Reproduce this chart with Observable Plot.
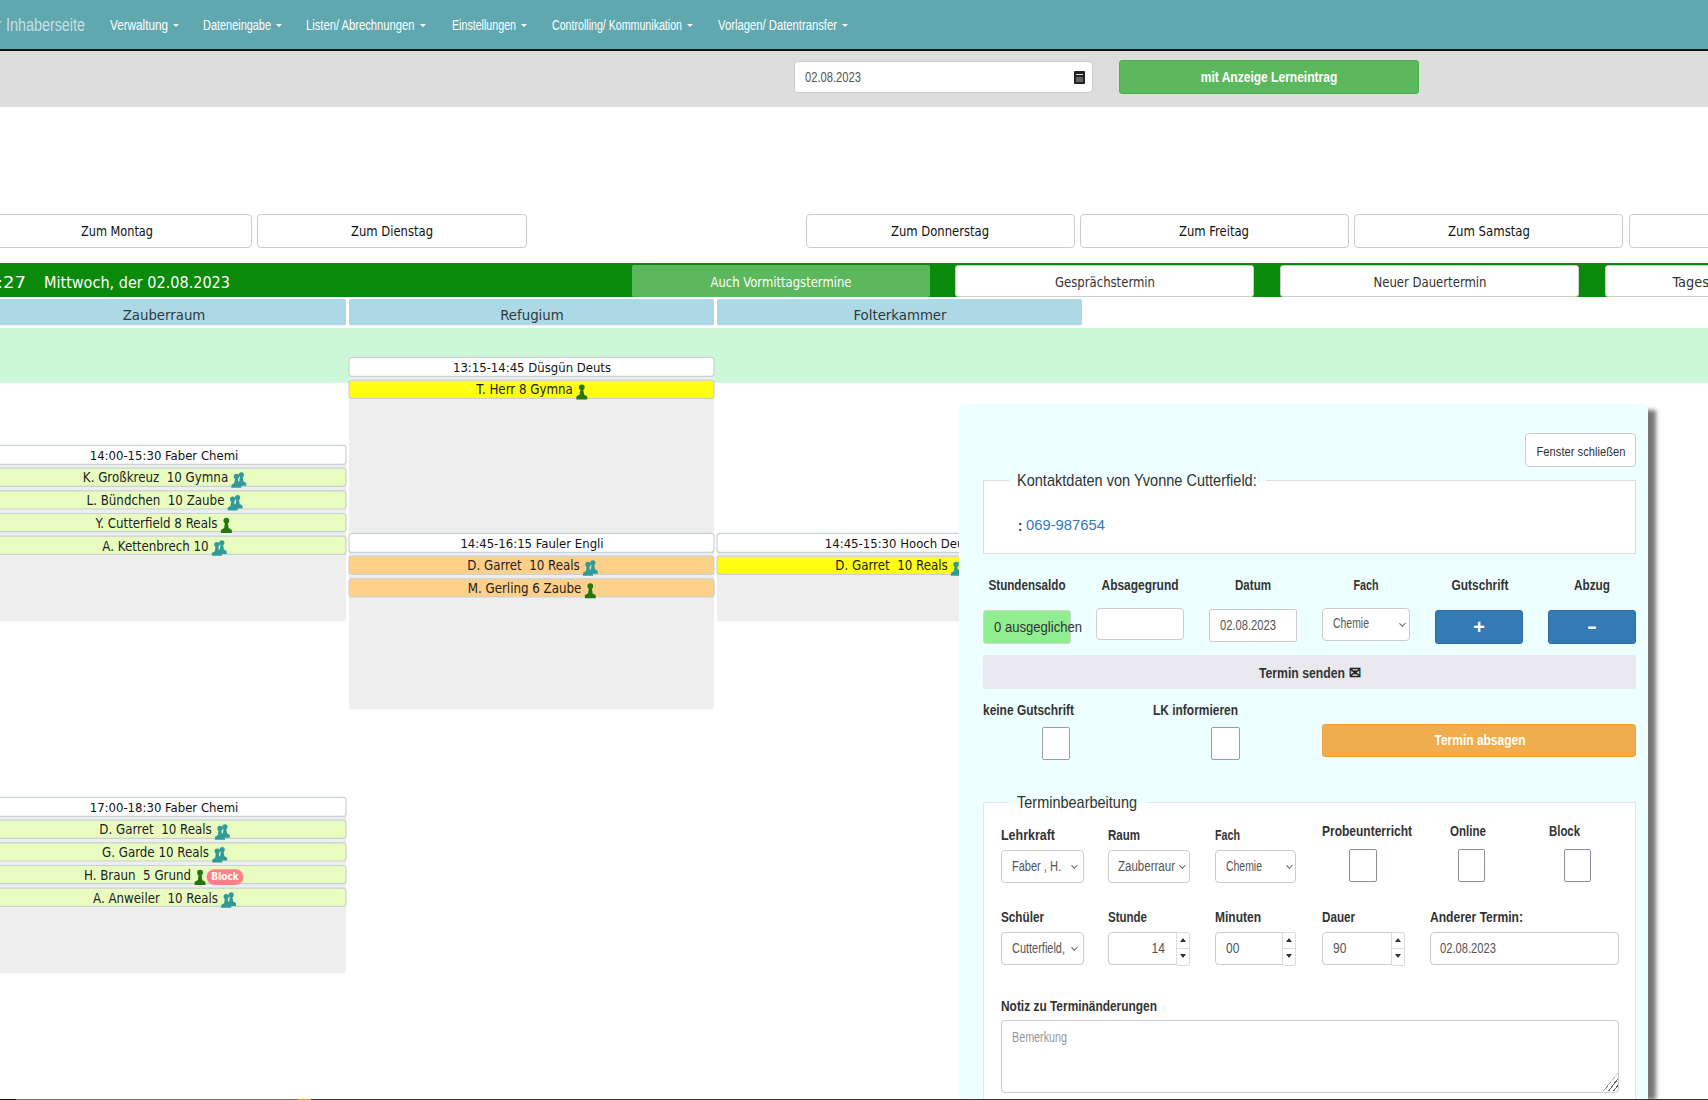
<!DOCTYPE html>
<html lang="de">
<head>
<meta charset="utf-8">
<title>Stundenplan</title>
<script src="https://cdn.jsdelivr.net/npm/d3@7"></script>
<script src="https://cdn.jsdelivr.net/npm/@observablehq/plot@0.6"></script>
<style>
html,body{margin:0;padding:0;background:#fff;overflow:hidden}
#root{position:relative;width:1708px;height:1100px;overflow:hidden}
#root svg{position:absolute;left:0;top:0}
.b,.t{position:absolute;box-sizing:border-box}
.t{white-space:nowrap;line-height:1}
</style>
</head>
<body>
<div id="root"></div>
<script>
// ---- Data ----
const rooms = ["Zauberraum", "Refugium", "Folterkammer"];
const lessonIds = ["a", "b", "c", "d", "e"];
const lessonRooms = ["Refugium", "Zauberraum", "Refugium", "Folterkammer", "Zauberraum"];
const lessonStarts = [795, 840, 885, 885, 1020];  // minutes after midnight
const lessonEnds = [885, 930, 975, 930, 1110];
const lessonLabels = ["13:15-14:45 Düsgün Deuts", "14:00-15:30 Faber Chemi", "14:45-16:15 Fauler Engli", "14:45-15:30 Hooch Deuts", "17:00-18:30 Faber Chemi"];
const studentLesson = ["a", "b", "b", "b", "b", "c", "c", "d", "e", "e", "e", "e"];
const studentNames = ["T. Herr 8 Gymna", "K. Großkreuz\u00a0 10 Gymna", "L. Bündchen\u00a0 10 Zaube", "Y. Cutterfield 8 Reals", "A. Kettenbrech 10", "D. Garret\u00a0 10 Reals", "M. Gerling 6 Zaube", "D. Garret\u00a0 10 Reals", "D. Garret\u00a0 10 Reals", "G. Garde 10 Reals", "H. Braun\u00a0 5 Grund", "A. Anweiler\u00a0 10 Reals"];
const studentStatus = ["offen", "regulär", "regulär", "regulär", "regulär", "vorgemerkt", "vorgemerkt", "offen", "regulär", "regulär", "regulär", "regulär"];
const studentKind = ["einzel", "gruppe", "gruppe", "einzel", "gruppe", "gruppe", "einzel", "gruppe", "gruppe", "gruppe", "einzel", "gruppe"];
const studentBlock = [false, false, false, false, false, false, false, false, false, false, true, false];
const statusNames = ["regulär", "vorgemerkt", "offen"];
const statusColors = ["#e9fdc0", "#ffd08a", "#ffff14"];
const headerRow = [765.9, 779.3];   // room title row, on the time axis
const midBand = [780.7, 808.7];     // mint band on the time axis
const titleSpan = 9.7, rowPitch = 11.6, rowSpan = 9.3; // minutes of axis per row

const navLabels = ["Verwaltung", "Dateneingabe", "Listen/ Abrechnungen", "Einstellungen", "Controlling/ Kommunikation", "Vorlagen/ Datentransfer"];
const dayLabels = ["Zum Montag", "Zum Dienstag", "Zum Donnerstag", "Zum Freitag", "Zum Samstag", ""];
const actionLabels = ["Gesprächstermin", "Neuer Dauertermin", "Tagestermin"];

// ---- Schedule tables ----
const timeShift = 0.75; // the headers above keep their place, the lessons sit lower
const lessons = lessonIds.map((id, i) => ({id, room: lessonRooms[i], start: lessonStarts[i], end: lessonEnds[i], label: lessonLabels[i]}));
lessons.forEach(l => {
  l.ty1 = l.start; l.ty2 = l.start + titleSpan; l.mid = l.start + titleSpan / 2;
});
const students = studentNames.map((name, i) => {
  const lesson = lessons.find(l => l.id === studentLesson[i]);
  const order = studentLesson.slice(0, i).filter(x => x === lesson.id).length;
  const y1 = lesson.start + (order + 1) * rowPitch;
  return {name, room: lesson.room, status: studentStatus[i], kind: studentKind[i], block: studentBlock[i], y1, y2: y1 + rowSpan, mid: y1 + rowSpan / 2};
});

// ---- Text measuring ----
const cv = document.createElement("canvas").getContext("2d");
const measure = (txt, font) => { cv.font = font; return cv.measureText(txt).width; };
const SCHED = '"DejaVu Sans Condensed","DejaVu Sans",sans-serif';
const SANS = '"Liberation Sans",Arial,sans-serif';

const rowFont = 13, nameFont = 13.2;
const iconW = {einzel: 15, gruppe: 17};
students.forEach(s => {
  const tw = measure(s.name, `${nameFont}px ${SCHED}`);
  const total = tw + iconW[s.kind] + (s.block ? 38 : 0);
  s.textDx = -total / 2 + tw / 2;
  s.iconDx = -total / 2 + tw + iconW[s.kind] / 2 + 1.5;
  s.badgeDx = -total / 2 + tw + iconW[s.kind] + 19;
});

// ---- Person glyphs as Plot symbols ----
function person(ctx, cx, cy, R) {
  ctx.moveTo(cx + 0.36 * R, cy - 0.55 * R);
  ctx.arc(cx, cy - 0.55 * R, 0.36 * R, 0, 2 * Math.PI);
  ctx.moveTo(cx - 0.2 * R, cy - 0.2 * R);
  ctx.lineTo(cx + 0.2 * R, cy - 0.2 * R);
  ctx.lineTo(cx + 0.28 * R, cy + 0.35 * R);
  ctx.lineTo(cx + 0.68 * R, cy + 0.6 * R);
  ctx.lineTo(cx + 0.68 * R, cy + 0.98 * R);
  ctx.lineTo(cx - 0.68 * R, cy + 0.98 * R);
  ctx.lineTo(cx - 0.68 * R, cy + 0.6 * R);
  ctx.lineTo(cx - 0.28 * R, cy + 0.35 * R);
  ctx.closePath();
}
const single = {draw(ctx, size) { const R = Math.sqrt(size / Math.PI); person(ctx, 0, 0, R); }};
const pair = {draw(ctx, size) { const R = Math.sqrt(size / Math.PI); person(ctx, 0.4 * R, -0.12 * R, 0.9 * R); person(ctx, -0.22 * R, 0.1 * R, 0.92 * R); }};
const pill = {draw(ctx) {
  const w = 18.5, h = 7.8;
  ctx.moveTo(-w + h, -h);
  ctx.lineTo(w - h, -h);
  ctx.arc(w - h, 0, h, -Math.PI / 2, Math.PI / 2);
  ctx.lineTo(-w + h, h);
  ctx.arc(-w + h, 0, h, Math.PI / 2, -Math.PI / 2);
  ctx.closePath();
}};

// ---- The schedule, through Plot's scales ----
const chart = Plot.plot({
  width: 1708, height: 1100,
  marginTop: 0, marginRight: 0, marginBottom: 0, marginLeft: 0,
  style: {background: "transparent", overflow: "hidden"},
  x: {type: "band", domain: rooms, range: [-20, 1083], paddingInner: 0.0068, paddingOuter: 0, axis: null},
  y: {type: "linear", domain: [612.96 - timeShift, 1175.46 - timeShift], range: [0, 1100], axis: null},
  color: {domain: statusNames, range: statusColors},
  marks: [
    Plot.rect([{}], {y1: () => midBand[0] - timeShift, y2: () => midBand[1] - timeShift, fill: "#ccf7d8"}),
    Plot.barY(rooms, {x: d => d, y1: () => headerRow[0] - timeShift, y2: () => headerRow[1] - timeShift, fill: "#add8e6", rx: 2}),
    Plot.text(rooms, {x: d => d, y: () => (headerRow[0] + headerRow[1]) / 2 - timeShift, dy: 3, text: d => d, fontFamily: SCHED, fontSize: 14.8, fill: "#2e3a3d"}),
    Plot.barY(lessons, {x: "room", y1: "start", y2: "end", fill: "#eeeeee", rx: 3}),
    Plot.barY(lessons, {x: "room", y1: "ty1", y2: "ty2", fill: "#ffffff", stroke: "#c8d2d4", strokeWidth: 1.2, rx: 3}),
    Plot.text(lessons, {x: "room", y: "mid", dy: 0.5, text: "label", fontFamily: SCHED, fontSize: rowFont, fill: "#111"}),
    Plot.barY(students, {x: "room", y1: "y1", y2: "y2", fill: "status", stroke: "#c8d2d4", strokeWidth: 1.2, rx: 3}),
    ...students.flatMap(s => [
      Plot.text([s], {x: "room", y: "mid", text: "name", dx: s.textDx, dy: 0.5, fontFamily: SCHED, fontSize: nameFont, fill: "#222"}),
      Plot.dot([s], {x: "room", y: "mid", dx: s.iconDx, dy: 2, r: 8, symbol: s.kind === "einzel" ? single : pair, fill: s.kind === "einzel" ? "#24760f" : "#2f9a9a", stroke: "none"}),
      ...(s.block ? [
        Plot.dot([s], {x: "room", y: "mid", dx: s.badgeDx, dy: 2, r: 10, symbol: pill, fill: "#ff8088", stroke: "none"}),
        Plot.text([s], {x: "room", y: "mid", text: () => "Block", dx: s.badgeDx, dy: 2, fontFamily: SCHED, fontSize: 10, fontWeight: "bold", fill: "#fff"})
      ] : [])
    ])
  ]
});
const root = document.getElementById("root");
root.appendChild(chart);

// ---- Page chrome around the chart ----
function box(x1, y1, x2, y2, bg, o = {}) {
  const e = document.createElement("div");
  e.className = "b";
  e.style.cssText = `left:${x1}px;top:${y1}px;width:${x2 - x1}px;height:${y2 - y1}px;background:${bg};` +
    `border:${o.border || "none"};border-radius:${o.r ?? 0}px;box-shadow:${o.shadow || "none"};${o.css || ""}`;
  root.appendChild(e);
  return e;
}
function txt(s, x, y, o = {}) {
  const size = o.size || 14, weight = o.weight || "normal", fam = o.fam || SANS;
  const e = document.createElement("span");
  e.className = "t";
  e.textContent = s;
  let sx = o.sx || 0.86;
  if (o.w) sx = o.w / measure(s, `${weight} ${size}px ${fam}`);
  const anchor = o.anchor || "left";
  const tx = anchor === "left" ? "0" : anchor === "right" ? "-100%" : "-50%";
  e.style.cssText = `left:${x}px;top:${y}px;font:${weight} ${size}px ${fam};color:${o.color || "#333"};` +
    `transform-origin:${anchor} center;transform:translate(${tx},-50%) scaleX(${sx});${o.css || ""}`;
  root.appendChild(e);
  return e;
}
function chevron(x, y) {
  box(x - 2.5, y - 3, x + 2.5, y + 2, "transparent", {css: "border-right:1px solid #555;border-bottom:1px solid #555;transform:rotate(45deg) scale(.9,1);"});
}
function tri(x, y, dir, c, w = 3.5, h = 4) {
  const e = box(x - w, y - h / 2, x + w, y + h / 2, "transparent", {css:
    `width:0;height:0;border-left:${w}px solid transparent;border-right:${w}px solid transparent;` +
    (dir === "down" ? `border-top:${h}px solid ${c};` : `border-bottom:${h}px solid ${c};`)});
  return e;
}

// nav
box(0, 0, 1708, 49, "#5fa8b0");
box(0, 49, 1708, 50.5, "#111");
box(0, 50.5, 1708, 107, "#dddddd");
txt("Inhaberseite", 85, 25, {size: 18, color: "#c9dfe2", anchor: "right", w: 79});
txt("r", -2, 25, {size: 18, color: "#c9dfe2", w: 3});
const navLefts = [110, 203, 306, 452, 552, 718], navWidths = [58, 68, 109, 64, 130, 119];
navLabels.forEach((n, i) => {
  txt(n, navLefts[i], 24.5, {size: 14, color: "#fff", w: navWidths[i]});
  tri(navLefts[i] + navWidths[i] + 7.5, 25.5, "down", "#fff", 3, 3.5);
});
// date + button
box(794, 60.5, 1093, 92.5, "#fff", {border: "1px solid #ccc", r: 4});
txt("02.08.2023", 805, 77, {size: 14, color: "#555", w: 56});
box(1074, 71, 1085, 84, "#222", {r: 1});
box(1076, 74, 1083, 75, "#ddd");
box(1076, 77, 1083, 82, "#666");
box(1119, 60, 1419, 94, "#5cb85c", {border: "1px solid #4cae4c", r: 3});
txt("mit Anzeige Lerneintrag", 1269, 77, {size: 14, weight: "bold", color: "#fff", anchor: "center", w: 137});

// day buttons
const dayLefts = [-10, 257, 805.5, 1080, 1354, 1628.5], dayRights = [252, 527, 1075, 1348.5, 1623, 1760];
const dayWidths = [72, 82, 98, 70, 82, 0];
dayLabels.forEach((d, i) => {
  box(dayLefts[i], 214, dayRights[i], 248, "#fff", {border: "1px solid #ccc", r: 4});
  if (d) txt(d, (i === 0 ? 117 : (dayLefts[i] + dayRights[i]) / 2), 231, {size: 14, fam: SCHED, color: "#111", anchor: "center", w: dayWidths[i]});
});

// green strip
box(0, 263, 1708, 297, "#0a8a0a");
txt("13:27", 26, 281.5, {size: 16.5, fam: SCHED, color: "#fff", anchor: "right", w: 52});
txt("Mittwoch, der 02.08.2023", 43.5, 281.5, {size: 16.5, fam: SCHED, color: "#fff", w: 186});
box(632, 265, 930, 297, "#5cb85c", {r: 2});
txt("Auch Vormittagstermine", 781, 281.5, {size: 14, fam: SCHED, color: "#fff", anchor: "center", w: 141});
const actLefts = [955, 1280, 1604.5], actRights = [1254, 1579, 1904], actCenters = [1105, 1429.5, 1712], actWidths = [100, 113, 79];
actionLabels.forEach((a, i) => {
  box(actLefts[i], 265, actRights[i], 297, "#fff", {border: "1px solid #ccc", r: 3});
  txt(a, actCenters[i], 281.5, {size: 14, fam: SCHED, color: "#333", anchor: "center", w: actWidths[i]});
});

// panel
box(966, 410, 1656, 1100, "#777", {css: "filter:blur(2px);"});
box(958.5, 404, 1648, 1100, "#eeffff", {r: 6, css: "border-bottom-left-radius:0;border-bottom-right-radius:0;"});
box(1525.4, 433.3, 1635.6, 466.7, "#fff", {border: "1px solid #ccc", r: 4});
txt("Fenster schließen", 1580.5, 450.5, {size: 13.5, color: "#333", anchor: "center", w: 89});

// contact fieldset
box(983, 480, 1636, 554, "#fff", {border: "1.5px solid #ddd"});
box(1009, 470, 1266, 481.5, "#eeffff");
txt("Kontaktdaten von Yvonne Cutterfield:", 1017, 480.5, {size: 17, color: "#333", w: 240});
txt(":", 1018, 525, {size: 15, color: "#333", weight: "bold"});
txt("069-987654", 1026, 524.7, {size: 15.5, color: "#337ab7", w: 79});

// row of six controls
const topLabels = ["Stundensaldo", "Absagegrund", "Datum", "Fach", "Gutschrift", "Abzug"];
const topCenters = [1027, 1140, 1253, 1366, 1479.6, 1592];
const topWidths = [77, 77, 36, 25, 57, 36];
topLabels.forEach((l, i) => txt(l, topCenters[i], 584.5, {size: 14, weight: "bold", anchor: "center", w: topWidths[i]}));
box(983, 609.5, 1071, 643.5, "#90ee90", {r: 3, border: "1px solid #c9dcc9"});
txt("0 ausgeglichen", 994, 627, {size: 14, color: "#333", w: 88});
box(1096, 607.5, 1184, 640, "#fff", {border: "1px solid #ccc", r: 4});
box(1209, 608.5, 1297, 641.5, "#fff", {border: "1px solid #ccc", r: 2});
txt("02.08.2023", 1220, 624.5, {size: 14, color: "#555", w: 56});
box(1322, 607.5, 1409.5, 640.5, "#fff", {border: "1px solid #ccc", r: 4});
txt("Chemie", 1333, 623, {size: 14, color: "#555", w: 36});
chevron(1402, 623.5);
box(1435, 609.5, 1523, 643.5, "#337ab7", {border: "1px solid #2e6da4", r: 3});
txt("+", 1479, 627, {size: 20, weight: "bold", color: "#fff", anchor: "center", sx: 1});
box(1548, 609.5, 1636, 643.5, "#337ab7", {border: "1px solid #2e6da4", r: 3});
txt("-", 1592, 626, {size: 20, weight: "bold", color: "#fff", anchor: "center", sx: 1.5});
box(983, 655, 1636, 689, "#e8e8ee", {r: 3});
txt("Termin senden", 1259, 672.5, {size: 14, weight: "bold", w: 86});
txt("\u2709", 1354.5, 671.5, {size: 18, fam: '"DejaVu Sans",sans-serif', color: "#222", anchor: "center", sx: 0.8, css: "-webkit-text-stroke:.6px #222;"});

txt("keine Gutschrift", 983, 709.5, {size: 14, weight: "bold", w: 91});
txt("LK informieren", 1153, 709.5, {size: 14, weight: "bold", w: 85});
const cbStyle = {border: "1.5px solid #9a9aa8", r: 2};
box(1041.6, 727, 1070, 760, "#fff", cbStyle);
box(1211, 727, 1239.6, 760, "#fff", cbStyle);
box(1322, 723.5, 1636, 756.5, "#f0ad4e", {border: "1px solid #eea236", r: 3});
txt("Termin absagen", 1479.6, 739.5, {size: 14, weight: "bold", color: "#fff", anchor: "center", w: 91});

// edit fieldset
box(983, 802, 1636, 1130, "#fff", {border: "1.5px solid #e3e6e6"});
box(1009, 795, 1146, 804, "#eeffff");
txt("Terminbearbeitung", 1017, 802.5, {size: 17, color: "#333", w: 120});

const bold = (s, x, y, w) => txt(s, x, y, {size: 14, weight: "bold", w});
bold("Lehrkraft", 1000.5, 835.2, 54);
bold("Raum", 1108, 835.2, 32);
bold("Fach", 1215, 835.2, 25);
bold("Probeunterricht", 1322, 830.5, 90);
bold("Online", 1450, 830.5, 36);
bold("Block", 1549, 830.5, 31);
const inp = {border: "1px solid #ccc", r: 4};
box(1000.5, 849.5, 1083.6, 882.5, "#fff", inp);
txt("Faber , H.", 1011.5, 865.5, {size: 14, color: "#555", w: 49});
chevron(1074, 865.5);
box(1108, 849.5, 1190, 882.5, "#fff", inp);
txt("Zauberraur", 1118, 865.5, {size: 14, color: "#555", w: 57});
chevron(1182, 865.5);
box(1215, 849.5, 1296, 882.5, "#fff", inp);
txt("Chemie", 1226, 865.5, {size: 14, color: "#555", w: 36});
chevron(1289, 865.5);
const cb2 = {border: "1.5px solid #8d8da6", r: 2};
box(1349, 848.5, 1376.5, 881.5, "#fff", cb2);
box(1457.6, 848.5, 1485, 881.5, "#fff", cb2);
box(1563.5, 848.5, 1591, 881.5, "#fff", cb2);

bold("Schüler", 1000.5, 917.2, 43);
bold("Stunde", 1108, 917.2, 39);
bold("Minuten", 1215, 917.2, 46);
bold("Dauer", 1322, 917.2, 33);
bold("Anderer Termin:", 1430, 917.2, 93);
box(1000.5, 931.5, 1083.6, 964.5, "#fff", inp);
txt("Cutterfield,", 1011.5, 947.5, {size: 14, color: "#555", w: 53});
chevron(1074, 947.5);
function spin(x1, x2, val, left, right) {
  box(x1, 931.5, x2, 964.5, "#fff", inp);
  box(x2 - 14, 931.5, x2, 966, "#fff", {border: "1px solid #ddd", r: 2});
  box(x2 - 14, 948, x2, 949, "#ddd");
  tri(x2 - 7, 940, "up", "#333", 3, 4);
  tri(x2 - 7, 956, "down", "#333", 3, 4);
  if (right) txt(val, right, 947.5, {size: 14, color: "#555", anchor: "right"});
  else txt(val, left, 947.5, {size: 14, color: "#555"});
}
spin(1108, 1190, "14", 0, 1165);
spin(1215, 1296, "00", 1226, 0);
spin(1322, 1404.6, "90", 1333, 0);
box(1430, 931.5, 1619.4, 964.5, "#fff", inp);
txt("02.08.2023", 1440, 947.5, {size: 14, color: "#555", w: 56});

bold("Notiz zu Terminänderungen", 1000.5, 1005.5, 156);
box(1000.5, 1019.5, 1619.4, 1093, "#fff", {border: "1.5px solid #ccc", r: 4});
txt("Bemerkung", 1011.5, 1037, {size: 14, color: "#999", w: 55});
box(1603, 1073, 1618, 1091, "transparent", {css: "background:repeating-linear-gradient(-52deg,transparent 0 3px,#666 3px 4px);clip-path:polygon(100% 0,100% 100%,0 100%);"});

// bottom line
box(0, 1098.7, 16, 1100, "#111");
box(16, 1098.7, 298, 1100, "#777");
box(298, 1098.7, 311, 1100, "#f0a030");
box(311, 1098.7, 1708, 1100, "#333");
</script>
</body>
</html>
